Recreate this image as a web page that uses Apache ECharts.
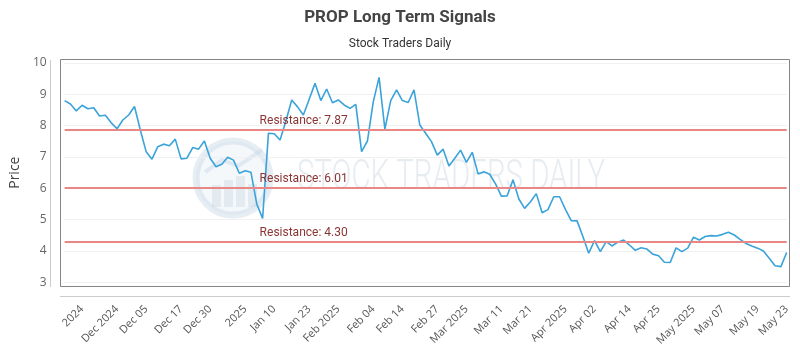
<!DOCTYPE html>
<html><head><meta charset="utf-8">
<script src="https://cdn.jsdelivr.net/npm/echarts@6/dist/echarts.min.js"></script>
<style>html,body{margin:0;padding:0;background:#fff}#c{width:800px;height:350px}</style>
</head><body><div id="c"></div>
<script>
const prices = [
  8.80, 8.69, 8.47, 8.65, 8.54, 8.57, 8.31, 8.33, 8.09, 7.90,
  8.18, 8.34, 8.61, 7.86, 7.17, 6.93, 7.33, 7.41, 7.36, 7.57,
  6.94, 6.96, 7.30, 7.25, 7.51, 6.96, 6.69, 6.77, 6.99, 6.90,
  6.48, 6.56, 6.51, 5.50, 5.04, 7.76, 7.74, 7.54, 8.15, 8.82,
  8.60, 8.34, 8.84, 9.35, 8.80, 9.17, 8.73, 8.82, 8.66, 8.55,
  8.68, 7.17, 7.51, 8.76, 9.54, 7.89, 8.80, 9.14, 8.80, 8.74,
  9.14, 8.02, 7.76, 7.49, 7.06, 7.25, 6.71, 6.96, 7.22, 6.83,
  7.15, 6.46, 6.53, 6.45, 6.14, 5.75, 5.76, 6.27, 5.66, 5.36,
  5.57, 5.83, 5.22, 5.32, 5.73, 5.73, 5.33, 4.97, 4.96, 4.46,
  3.93, 4.33, 3.98, 4.30, 4.16, 4.28, 4.35, 4.19, 4.02, 4.10,
  4.06, 3.90, 3.85, 3.64, 3.63, 4.10, 3.98, 4.09, 4.44, 4.35,
  4.46, 4.49, 4.48, 4.53, 4.60, 4.51, 4.37, 4.24, 4.16, 4.09,
  4.00, 3.77, 3.53, 3.50, 3.95
];
const xLabels = ["2024","Dec 2024","Dec 05","Dec 17","Dec 30","2025","Jan 10","Jan 23","Feb 2025","Feb 04","Feb 14","Feb 27","Mar 2025","Mar 11","Mar 21","Apr 2025","Apr 02","Apr 14","Apr 25","May 2025","May 07","May 19","May 23"];
const xLabelIndex = [3,9,14,20,25,31,36,42,47,53,58,64,69,75,80,86,91,97,102,108,113,119,124];
const resistance = [7.87, 6.01, 4.30];
const yMin = 3, yMax = 10, yStep = 1;

const labelMap = new Map(xLabelIndex.map((idx, k) => [idx, xLabels[k]]));
const categories = prices.map((_, i) => String(i));

const chart = echarts.init(document.getElementById('c'), null, {renderer: 'canvas'});
chart.setOption({
  animation: false,
  backgroundColor: '#fff',
  title: [
    {text: 'PROP Long Term Signals', left: 'center', top: 4,
     textStyle: {fontFamily: 'Roboto', fontWeight: 'bold', fontSize: 17, color: '#444'}},
    {text: 'Stock Traders Daily', left: 'center', top: 33,
     textStyle: {fontFamily: 'Roboto', fontWeight: 'normal', fontSize: 12, color: '#333'}}
  ],
  graphic: [
    {type: 'group', z: 0, silent: true, children: [
      {type: 'circle', shape: {cx: 233, cy: 178, r: 37}, style: {fill: 'rgba(215,228,238,0.25)', stroke: 'rgba(200,215,228,0.45)', lineWidth: 7}},
      {type: 'rect', shape: {x: 212, y: 185, width: 9, height: 22}, style: {fill: 'rgba(200,215,228,0.4)'}},
      {type: 'rect', shape: {x: 224, y: 180, width: 9, height: 27}, style: {fill: 'rgba(200,215,228,0.4)'}},
      {type: 'rect', shape: {x: 236, y: 176, width: 9, height: 31}, style: {fill: 'rgba(200,215,228,0.4)'}},
      {type: 'rect', shape: {x: 248, y: 184, width: 9, height: 23}, style: {fill: 'rgba(200,215,228,0.4)'}},
      {type: 'polyline', shape: {points: [[205,172],[222,160],[238,166],[262,150]]}, style: {stroke: 'rgba(200,215,228,0.45)', lineWidth: 4, fill: null}},
      {type: 'text', x: 451, y: 178, scaleX: 0.7, style: {text: 'STOCK TRADERS DAILY', fontFamily: 'Roboto', fontWeight: 300, fontSize: 42, fill: 'rgba(215,224,232,0.6)', align: 'center', verticalAlign: 'middle'}}
    ]},
    {type: 'rect', z: 1, silent: true, shape: {x: 60.5, y: 59.5, width: 729, height: 227}, style: {fill: null, stroke: '#858585', lineWidth: 1}},
    {type: 'line', z: 1, silent: true, shape: {x1: 50.5, y1: 60, x2: 50.5, y2: 287}, style: {stroke: '#cccccc', lineWidth: 1}},
    {type: 'line', z: 1, silent: true, shape: {x1: 60, y1: 296.5, x2: 790, y2: 296.5}, style: {stroke: '#cccccc', lineWidth: 1}}
  ],
  grid: {left: 61.7, right: 13.3, top: 63, bottom: 67.7, containLabel: false},
  xAxis: {
    type: 'category', data: categories, boundaryGap: false, offset: 14,
    axisLine: {show: false}, axisTick: {show: false}, splitLine: {show: false},
    axisLabel: {
      interval: (i) => labelMap.has(i),
      formatter: (v, i) => labelMap.get(i) || '',
      rotate: 45, margin: 11, fontSize: 11, color: '#555', fontFamily: 'Open Sans', hideOverlap: false
    }
  },
  yAxis: {
    type: 'value', min: yMin, max: yMax, interval: yStep,
    name: 'Price', nameLocation: 'middle', nameGap: 38,
    nameTextStyle: {fontSize: 14, color: '#444', fontFamily: 'Open Sans'},
    axisLine: {show: false}, axisTick: {show: false},
    axisLabel: {margin: 18, fontSize: 12, color: '#666', fontFamily: 'Open Sans'},
    splitLine: {lineStyle: {color: '#f0f0f0', width: 1}}
  },
  series: [{
    type: 'line', data: prices, showSymbol: false, symbol: 'none', z: 3,
    lineStyle: {color: '#3aa3da', width: 1.6},
    itemStyle: {color: '#3aa3da'},
    markLine: {
      silent: true, symbol: 'none', animation: false,
      lineStyle: {color: '#e98787', width: 2, type: 'solid'},
      label: {
        position: 'insideStartTop', distance: [195, 3],
        color: '#8b3535', fontSize: 12, fontFamily: 'Roboto',
        formatter: (p) => 'Resistance: ' + p.value.toFixed(2)
      },
      data: resistance.map(v => ({yAxis: v}))
    }
  }]
});
</script></body></html>
